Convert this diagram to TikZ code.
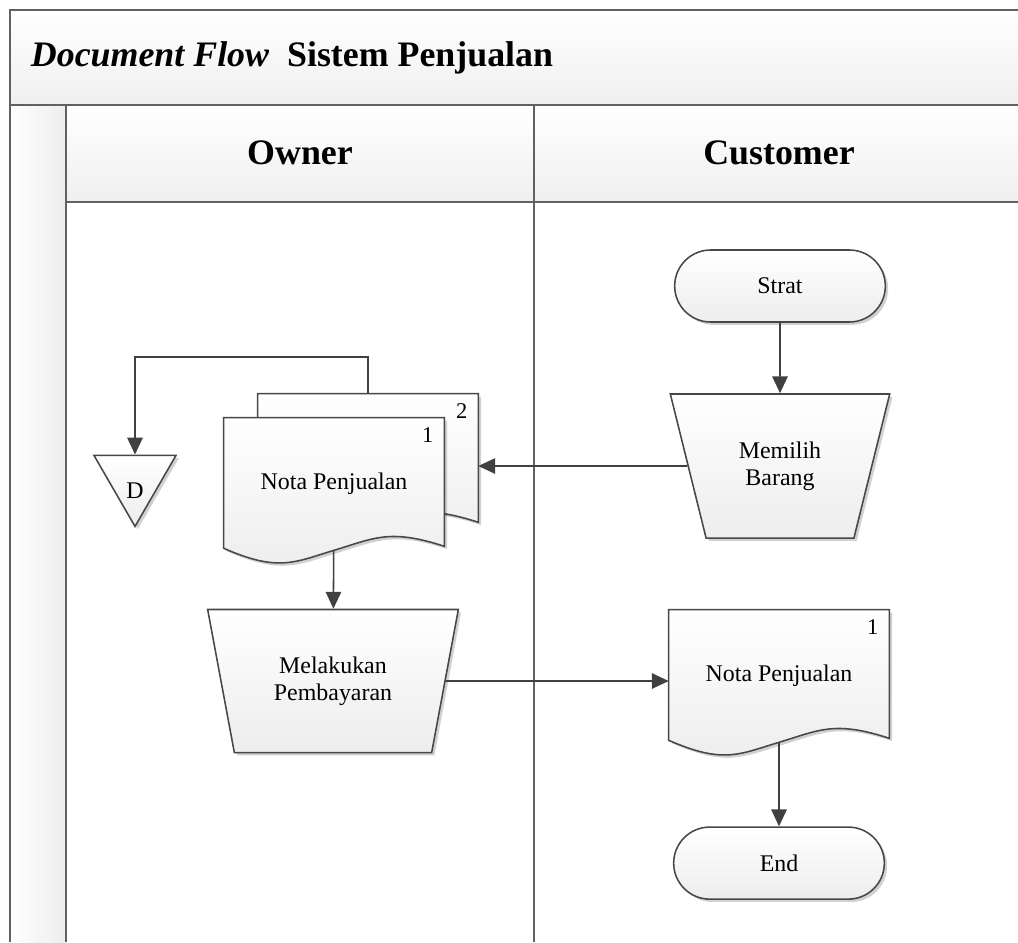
\documentclass[tikz,border=0pt]{standalone}
\usepackage{fontspec}
\setmainfont{Liberation Serif}
\usetikzlibrary{shapes.geometric, shapes.misc, arrows.meta, calc, positioning, shadows}
\pgfdeclarelayer{lajur}
\pgfdeclarelayer{background}
\pgfsetlayers{lajur,background,main}
\newcommand{\teks}{\fontsize{17}{19}\selectfont}
\newcommand{\besar}{\fontsize{25.5}{29}\selectfont\bfseries}
\tikzset{
>={Triangle[length=12pt,width=11pt]}, % kepala panah tebal
isi/.style={top color=white, bottom color=gray!14}, % gradasi isi bentuk
garis/.style={draw=black!72, line width=1.1pt}, % garis tepi bentuk
bayang/.style={drop shadow={shadow xshift=2pt, shadow yshift=-2pt, opacity=0.18, fill=black}},
bingkai/.style={draw=black!62, line width=2pt}, % garis swimlane
terminal/.style={rounded rectangle, garis, isi, bayang, minimum width=5.5cm, minimum height=1.8cm, font=\teks},
manual/.style={trapezium, shape border rotate=180, trapezium stretches=true, garis, isi, bayang, align=center, font=\teks},
dok/.style={rectangle, draw=none, minimum width=5.5cm, minimum height=3.3cm, font=\teks},
nomor/.style={anchor=north east, inner xsep=7.5pt, inner ysep=7pt, font=\fontsize{16}{16}\selectfont},
panah/.style={->, draw=black!75, line width=1.1pt},
}
% bentuk dokumen dengan sisi bawah bergelombang
\newcommand{\dokumen}[2]{%
\begin{pgfonlayer}{background}
\draw[garis, isi, preaction={fill=black, opacity=0.18, transform canvas={xshift=2pt, yshift=-2pt}}]
(#1.north west) -- (#1.north east) -- ($(#1.south east)+(0,-4)$)
.. controls ($(#1.south east)+(-55,-22)$) and ($(#1.south)+(40,-12)$) .. (#1.south)
.. controls ($(#1.south)+(-40,12)$) and ($(#1.south west)+(55,22)$) .. ($(#1.south west)+(0,-2)$)
-- cycle;
\end{pgfonlayer}
\node[nomor] (#1-no) at (#1.north east) {#2};}

\begin{document}
\begin{tikzpicture}[x=0.025cm, y=-0.025cm]
\useasboundingbox (0,0) rectangle (1018,942);

% swimlane
\begin{pgfonlayer}{lajur}
\fill[top color=white, bottom color=gray!12] (10,10) rectangle (1018,105);
\fill[top color=white, bottom color=gray!12] (66,105) rectangle (1018,202);
\fill[left color=white, right color=gray!14] (10,105) rectangle (66,942);
\draw[bingkai] (1018,10) -- (10,10) -- (10,942);
\draw[bingkai] (10,105) -- (1018,105);
\draw[bingkai] (66,105) -- (66,942);
\draw[bingkai] (66,202) -- (1018,202);
\draw[bingkai] (534,105) -- (534,942);
\end{pgfonlayer}

\node[anchor=west, font=\besar] (judul) at (26,58) {\textit{Document Flow}~~Sistem Penjualan};
\node[font=\besar] (owner) at (300,153) {Owner};
\node[font=\besar] (customer) at (779,153) {Customer};

% customer
\node[terminal] (mulai) at (780,286) {Strat};
\node[manual, trapezium left angle=69, trapezium right angle=69, minimum width=5.5cm, minimum height=3.6cm] (memilih) at (780,466) {Memilih\\Barang};
\node[dok] (nota3) at (779,676) {Nota Penjualan};
\node[terminal] (selesai) [below=2.1cm of nota3] {End};

% owner
\node[dok] (nota2) at (368,460) {};
\node[dok] (nota1) at (334,484) {Nota Penjualan};
\node[manual, trapezium left angle=73.4, trapezium right angle=73.4, minimum width=6.275cm, minimum height=3.575cm] (bayar) at (333,681) {Melakukan\\Pembayaran};
\node[regular polygon, regular polygon sides=3, shape border rotate=180, minimum size=2.37cm, garis, isi, bayang, label={[font=\teks, yshift=-0.28cm]center:D}] (arsip) at (135,479) {};
\coordinate (belok) at (135,357);

\dokumen{nota2}{2}
\dokumen{nota1}{1}
\dokumen{nota3}{1}

\draw[panah] (mulai) -- (memilih);
\draw[panah] (memilih) -- (memilih -| nota2.east);
\draw[panah] (nota2.north) |- (belok) -- (arsip);
\draw[panah] (nota1) -- (bayar);
\draw[panah] (bayar) -- (bayar -| nota3.west);
\draw[panah] (nota3) -- (selesai);
\end{tikzpicture}
\end{document}
